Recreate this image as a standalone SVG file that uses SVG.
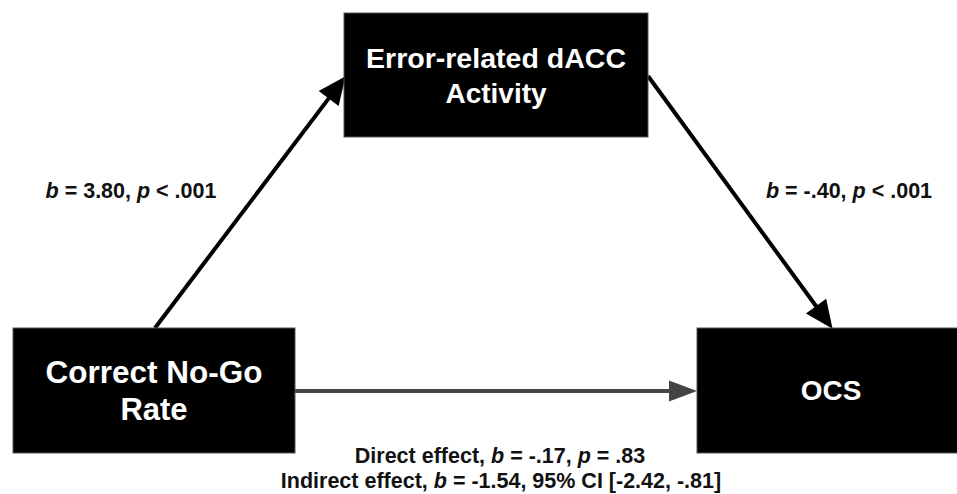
<svg xmlns="http://www.w3.org/2000/svg" width="957" height="494" viewBox="0 0 957 494">
<style>
.box{fill:#000;stroke:#555;stroke-width:1}
.bt{fill:#fff;font-family:"Liberation Sans",Arial,sans-serif;text-anchor:middle;font-weight:bold}
.lbl{fill:#111;font-family:"Liberation Sans",Arial,sans-serif;font-weight:bold;font-size:21.5px;text-anchor:middle}
.conn{fill:none;stroke-width:4}
</style>
<defs>
<marker id="ah" markerUnits="userSpaceOnUse" markerWidth="30" markerHeight="26" refX="7" refY="12.5" orient="auto" overflow="visible">
<path d="M0,0 L28,12.5 L0,25 z" fill="#000"/>
</marker>
<marker id="ahg" markerUnits="userSpaceOnUse" markerWidth="30" markerHeight="24" refX="8" refY="10.5" orient="auto" overflow="visible">
<path d="M0,0 L28,10.5 L0,21 z" fill="#444"/>
</marker>
</defs>
<rect width="957" height="494" fill="#fff"/>
<g id="connectors">
<line class="conn" x1="155" y1="328" x2="332.9" y2="92.9" stroke="#000" marker-end="url(#ah)"/>
<line class="conn" x1="648" y1="76" x2="820.2" y2="311.8" stroke="#000" marker-end="url(#ah)"/>
<line class="conn" x1="295" y1="391" x2="677" y2="391" stroke="#444" marker-end="url(#ahg)"/>
</g>
<g id="node-dacc">
<rect class="box" x="344" y="13" width="304" height="124"/>
<text class="bt" x="496" y="68" font-size="28" textLength="260" lengthAdjust="spacingAndGlyphs">Error-related dACC</text>
<text class="bt" x="496" y="103" font-size="28">Activity</text>
</g>
<g id="node-nogo">
<rect class="box" x="13" y="328" width="282" height="125"/>
<text class="bt" x="154" y="383" font-size="31" textLength="217" lengthAdjust="spacingAndGlyphs">Correct No-Go</text>
<text class="bt" x="154" y="420" font-size="31">Rate</text>
</g>
<g id="node-ocs">
<rect class="box" x="697" y="328" width="270" height="125"/>
<text class="bt" x="831" y="400" font-size="28">OCS</text>
</g>
<g id="labels">
<text class="lbl" x="131" y="198"><tspan font-style="italic">b</tspan> = 3.80, <tspan font-style="italic">p</tspan> &lt; .001</text>
<text class="lbl" x="849" y="198"><tspan font-style="italic">b</tspan> = -.40, <tspan font-style="italic">p</tspan> &lt; .001</text>
<text class="lbl" x="500" y="463">Direct effect, <tspan font-style="italic">b</tspan> = -.17, <tspan font-style="italic">p</tspan> = .83</text>
<text class="lbl" x="501" y="488">Indirect effect, <tspan font-style="italic">b</tspan> = -1.54, 95% CI [-2.42, -.81]</text>
</g>
</svg>
